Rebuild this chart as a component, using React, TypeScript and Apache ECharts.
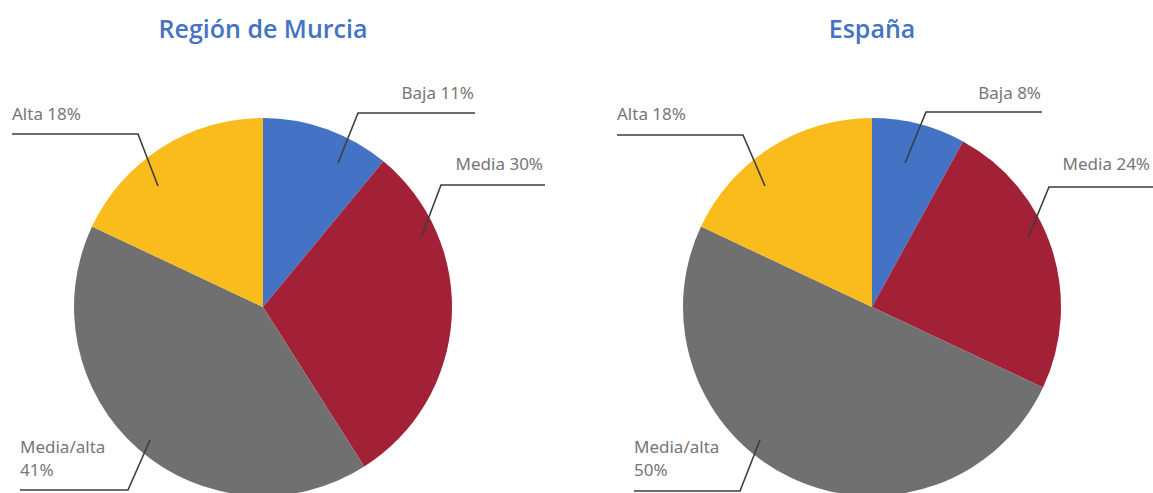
import React, { useEffect, useRef } from "react";
import * as echarts from "echarts";

const categories = ["Baja", "Media", "Media/alta", "Alta"];
const murciaValues = [11, 30, 41, 18];
const espanaValues = [8, 24, 50, 18];
const titles = ["Región de Murcia", "España"];
const colors = ["#4472C4", "#A32136", "#6F706F", "#F9BC1C"];

// label layout, relative to each pie centre (style only)
type LL = { inner: number[]; elbow: number[]; endX: number; tx: number; ty: number; align: string };
const murciaLayout: LL[] = [
  { inner: [75, -144], elbow: [95, -194], endX: 212, tx: 211, ty: -215, align: "right" },
  { inner: [158, -69], elbow: [178, -122], endX: 282, tx: 280, ty: -144, align: "right" },
  { inner: [-113, 133], elbow: [-135, 183], endX: -243, tx: -243, ty: 151, align: "left" },
  { inner: [-105, -121], elbow: [-125, -173], endX: -251, tx: -251, ty: -194, align: "left" },
];
const espanaLayout: LL[] = [
  { inner: [33, -144], elbow: [54, -195], endX: 170, tx: 169, ty: -215, align: "right" },
  { inner: [156, -69], elbow: [177, -120], endX: 285, tx: 278, ty: -144, align: "right" },
  { inner: [-112, 133], elbow: [-132, 184], endX: -238, tx: -238, ty: 151, align: "left" },
  { inner: [-107, -121], elbow: [-129, -172], endX: -255, tx: -255, ty: -194, align: "left" },
];

const centers = [
  [263, 307],
  [872, 307],
];
const RADIUS = 189;

function pieSeries(values: number[], center: number[]) {
  return {
    type: "pie",
    center,
    radius: RADIUS,
    startAngle: 90,
    clockwise: true,
    silent: true,
    z: 2,
    data: categories.map((name, i) => ({
      name,
      value: values[i],
      itemStyle: { color: colors[i] },
    })),
    label: { show: false },
    labelLine: { show: false },
  };
}

function labelSeries(values: number[], center: number[], layout: LL[]) {
  const [cx, cy] = center;
  return {
    type: "pie",
    center,
    radius: RADIUS,
    startAngle: 90,
    clockwise: true,
    silent: true,
    z: 5,
    avoidLabelOverlap: false,
    data: categories.map((name, i) => ({
      name,
      value: values[i],
      itemStyle: { color: "rgba(0,0,0,0)" },
    })),
    label: {
      show: true,
      position: "outside",
      color: "#767676",
      fontFamily: "Noto Sans",
      fontSize: 17,
      lineHeight: 23,
      overflow: "none",
      formatter: (p: any) =>
        p.name.indexOf("/") >= 0 ? `${p.name}\n${p.value}%` : `${p.name} ${p.value}%`,
    },
    labelLine: {
      show: true,
      showAbove: true,
      smooth: false,
      lineStyle: { color: "#3d3d3d", width: 1.6 },
    },
    labelLayout: (params: any) => {
      const l = layout[params.dataIndex];
      return {
        x: cx + l.tx,
        y: cy + l.ty,
        align: l.align,
        verticalAlign: "middle",
        labelLinePoints: [
          [cx + l.inner[0], cy + l.inner[1]],
          [cx + l.elbow[0], cy + l.elbow[1]],
          [cx + l.endX, cy + l.elbow[1]],
        ],
      };
    },
  };
}

export default function App() {
  const ref = useRef<HTMLDivElement>(null);
  useEffect(() => {
    if (!ref.current) return;
    const chart = echarts.init(ref.current, null, { renderer: "svg" });
    chart.setOption({
      animation: false,
      backgroundColor: "#ffffff",
      graphic: titles.map((t, i) => ({
        type: "text",
        x: centers[i][0],
        y: 28,
        style: {
          text: t,
          fill: "#4472C4",
          font: "600 25px 'Open Sans'",
          textAlign: "center",
          textVerticalAlign: "middle",
        },
      })),
      series: [
        pieSeries(murciaValues, centers[0]),
        pieSeries(espanaValues, centers[1]),
        labelSeries(murciaValues, centers[0], murciaLayout),
        labelSeries(espanaValues, centers[1], espanaLayout),
      ],
    });
    return () => chart.dispose();
  }, []);
  return (
    <div
      ref={ref}
      style={{ position: "fixed", left: 0, top: 0, width: 1153, height: 493, background: "#fff" }}
    />
  );
}
